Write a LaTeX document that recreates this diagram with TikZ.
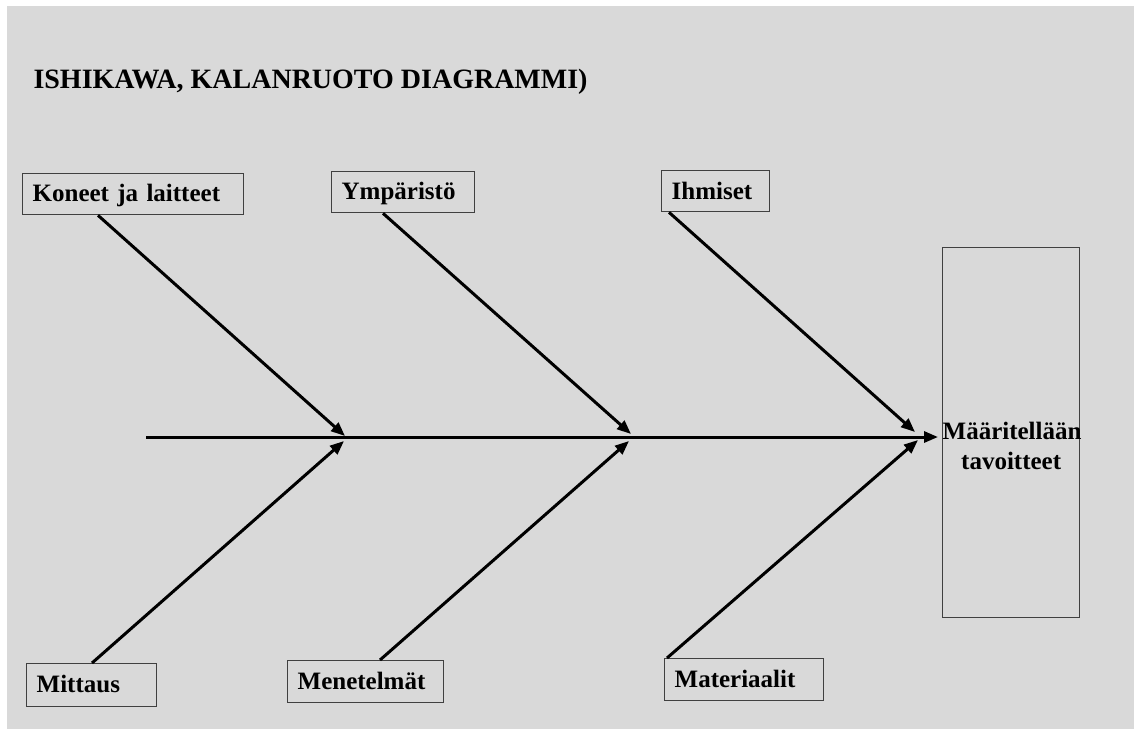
\documentclass[tikz,border=0pt]{standalone}
\usepackage{fontspec}
\setmainfont{Liberation Serif}
\usepackage{xcolor}
\usetikzlibrary{arrows.meta,positioning,calc}
\definecolor{bggray}{HTML}{D9D9D9}
\definecolor{boxline}{HTML}{404040}

\begin{document}
\begin{tikzpicture}[
	x=1pt, y=-1pt,
	every node/.style={font=\fontsize{25}{30}\selectfont\bfseries},
	cause/.style={draw=boxline, line width=1.3pt, anchor=north west, minimum height=41pt,
		inner xsep=10pt, inner ysep=0pt, align=left, text height=20pt, text depth=5pt},
	goalbox/.style={draw=boxline, line width=1.3pt, anchor=north west, minimum height=370pt,
		inner xsep=0pt, text width=137pt, align=center},
	arrow/.style={-{Triangle[length=14pt, width=11pt]}, line width=3pt}
	]
	
	\useasboundingbox (0,0) rectangle (1134,729);
	\fill[bggray] (7,6) rectangle (1134,729);
	
	\node[anchor=base west, font=\fontsize{28}{32}\selectfont\bfseries] (title) at (30,88) {ISHIKAWA, KALANRUOTO DIAGRAMMI)};
	
	% causes above the spine
	\node[cause, text width=201pt] (kon) at (22,173) {Koneet ja laitteet};
	\node[cause, text width=123pt] (ymp) at (331,171) {Ympäristö};
	\node[cause, text width=88pt, text height=21pt] (ihm) at (661,170) {Ihmiset};
	
	% causes below the spine
	\node[cause, text width=110pt, minimum height=43pt] (mit) at (26,663) {Mittaus};
	\node[cause, text width=136pt, minimum height=42pt] (men) at (287,660) {Menetelmät};
	\node[cause, text width=139pt, minimum height=42pt] (mat) at (664,658) {Materiaalit};
	
	\node[goalbox] (goal) at (942,247) {\rule{0pt}{44pt}Määritellään\\tavoitteet};
	
	% spine
	\coordinate (tail) at (146,437);
	\coordinate (head) at (938,437);
	\draw[arrow] (tail) -- (head);
	
	% bones
	\coordinate (b1) at (345,436);
	\coordinate (b2) at (631,434);
	\coordinate (b3) at (915,432);
	\coordinate (b4) at (344,441);
	\coordinate (b5) at (629,441);
	\coordinate (b6) at (918,440);
	
	\draw[arrow] ($(kon.south west)+(76,0)$) -- (b1);
	\draw[arrow] ($(ymp.south west)+(52,0)$) -- (b2);
	\draw[arrow] ($(ihm.south west)+(8,0)$) -- (b3);
	\draw[arrow] ($(mit.north west)+(66,0)$) -- (b4);
	\draw[arrow] ($(men.north west)+(93,0)$) -- (b5);
	\draw[arrow] ($(mat.north west)+(3,0)$) -- (b6);
	
\end{tikzpicture}
\end{document}
